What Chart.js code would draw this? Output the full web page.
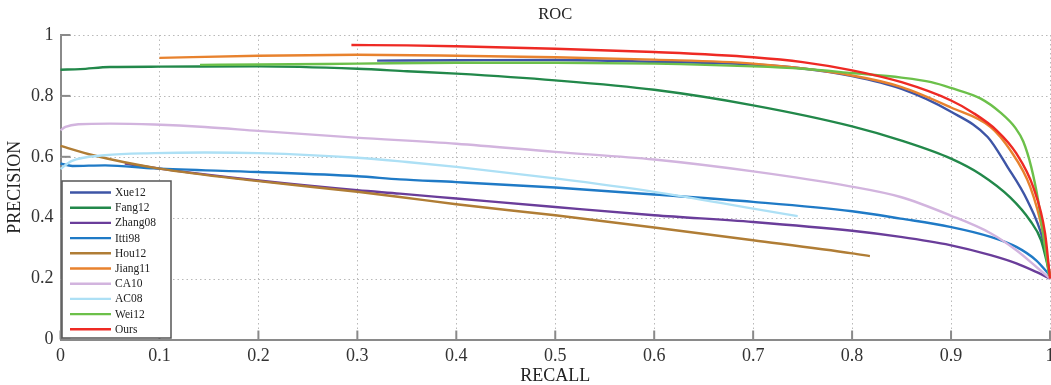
<!DOCTYPE html>
<html>
<head>
<meta charset="utf-8">
<script src="https://cdn.jsdelivr.net/npm/chart.js@4.4.1/dist/chart.umd.min.js"></script>
<style>
  html, body { margin: 0; padding: 0; background: #ffffff; }
  #wrap { width: 1051px; height: 385px; }
</style>
</head>
<body>
<div id="wrap"><canvas id="c" width="1051" height="385"></canvas></div>
<script>
// ---- Data ----
const seriesNames = ["Xue12", "Fang12", "Zhang08", "Itti98", "Hou12", "Jiang11", "CA10", "AC08", "Wei12", "Ours"];
const seriesColors = ["#3e55a6", "#22884a", "#6a3d9a", "#1f7ac6", "#b07d35", "#e8822e", "#d2b4de", "#ade0f5", "#6cc04a", "#ee2a24"];

const xue12Recall    = [0.32, 0.4, 0.5, 0.6, 0.7, 0.75, 0.8, 0.85, 0.9, 0.937, 0.957, 0.977, 0.993, 1.0];
const xue12Precision = [0.916, 0.917, 0.918, 0.912, 0.903, 0.89, 0.865, 0.823, 0.748, 0.665, 0.567, 0.457, 0.326, 0.21];

const fang12Recall    = [0, 0.02, 0.05, 0.1, 0.2, 0.3, 0.35, 0.4, 0.5, 0.6, 0.7, 0.8, 0.85, 0.9, 0.93, 0.96, 0.98, 0.991, 1.0];
const fang12Precision = [0.886, 0.888, 0.895, 0.896, 0.897, 0.889, 0.881, 0.873, 0.851, 0.82, 0.769, 0.70, 0.653, 0.594, 0.542, 0.466, 0.39, 0.326, 0.21];

const zhang08Recall    = [0.065, 0.1, 0.2, 0.3, 0.343, 0.4, 0.5, 0.6, 0.7, 0.8, 0.849, 0.899, 0.94, 0.966, 0.986, 1.0];
const zhang08Precision = [0.578, 0.561, 0.522, 0.49, 0.479, 0.463, 0.435, 0.408, 0.386, 0.357, 0.337, 0.31, 0.277, 0.25, 0.222, 0.2];

const itti98Recall    = [0, 0.012, 0.045, 0.095, 0.2, 0.3, 0.343, 0.4, 0.5, 0.6, 0.7, 0.8, 0.849, 0.899, 0.94, 0.966, 0.986, 1.0];
const itti98Precision = [0.578, 0.57, 0.572, 0.562, 0.55, 0.536, 0.526, 0.517, 0.499, 0.476, 0.452, 0.421, 0.397, 0.37, 0.337, 0.304, 0.26, 0.21];

const hou12Recall    = [0, 0.033, 0.1, 0.2, 0.3, 0.343, 0.4, 0.5, 0.6, 0.7, 0.8, 0.818];
const hou12Precision = [0.636, 0.605, 0.561, 0.52, 0.485, 0.468, 0.444, 0.408, 0.368, 0.326, 0.283, 0.274];

const jiang11Recall    = [0.1, 0.2, 0.3, 0.4, 0.5, 0.6, 0.7, 0.8, 0.85, 0.9, 0.94, 0.96, 0.98, 0.993, 1.0];
const jiang11Precision = [0.925, 0.932, 0.935, 0.932, 0.927, 0.919, 0.906, 0.867, 0.829, 0.762, 0.698, 0.621, 0.501, 0.349, 0.21];

const ca10Recall    = [0, 0.005, 0.018, 0.05, 0.095, 0.146, 0.2, 0.298, 0.4, 0.5, 0.6, 0.7, 0.798, 0.849, 0.899, 0.94, 0.966, 0.986, 1.0];
const ca10Precision = [0.687, 0.698, 0.707, 0.709, 0.706, 0.698, 0.685, 0.663, 0.643, 0.616, 0.591, 0.552, 0.503, 0.468, 0.408, 0.349, 0.293, 0.239, 0.2];

const ac08Recall    = [0, 0.011, 0.045, 0.095, 0.146, 0.2, 0.3, 0.35, 0.4, 0.5, 0.6, 0.7, 0.745];
const ac08Precision = [0.56, 0.586, 0.605, 0.612, 0.614, 0.612, 0.597, 0.583, 0.567, 0.529, 0.485, 0.43, 0.405];

const wei12Recall    = [0.141, 0.2, 0.3, 0.4, 0.5, 0.6, 0.7, 0.75, 0.8, 0.85, 0.88, 0.9, 0.93, 0.95, 0.965, 0.973, 0.981, 0.988, 0.993, 0.999];
const wei12Precision = [0.902, 0.903, 0.906, 0.909, 0.909, 0.906, 0.897, 0.889, 0.875, 0.86, 0.845, 0.826, 0.791, 0.745, 0.695, 0.65, 0.567, 0.457, 0.349, 0.21];

const oursRecall    = [0.294, 0.35, 0.4, 0.5, 0.6, 0.7, 0.75, 0.8, 0.85, 0.9, 0.922, 0.946, 0.966, 0.983, 0.995, 1.0];
const oursPrecision = [0.967, 0.966, 0.963, 0.955, 0.944, 0.927, 0.911, 0.884, 0.845, 0.785, 0.745, 0.687, 0.611, 0.501, 0.349, 0.2];

const xTickValues = [0, 0.1, 0.2, 0.3, 0.4, 0.5, 0.6, 0.7, 0.8, 0.9, 1];
const yTickValues = [0, 0.2, 0.4, 0.6, 0.8, 1];
const chartTitle = "ROC";
const xAxisTitle = "RECALL";
const yAxisTitle = "PRECISION";

// ---- Build datasets ----
const recalls = [xue12Recall, fang12Recall, zhang08Recall, itti98Recall, hou12Recall, jiang11Recall, ca10Recall, ac08Recall, wei12Recall, oursRecall];
const precisions = [xue12Precision, fang12Precision, zhang08Precision, itti98Precision, hou12Precision, jiang11Precision, ca10Precision, ac08Precision, wei12Precision, oursPrecision];

const datasets = seriesNames.map((name, i) => ({
  label: name,
  data: recalls[i].map((r, k) => ({ x: r, y: precisions[i][k] })),
  borderColor: seriesColors[i],
  backgroundColor: seriesColors[i],
  borderWidth: 2.4,
  pointRadius: 0,
  showLine: true,
  fill: false,
  cubicInterpolationMode: 'monotone',
  order: seriesNames.length - i,
  clip: 3
}));

const SERIF = "'Liberation Serif', 'DejaVu Serif', serif";
const GRID_COLOR = '#b9b9b9';
const AXIS_COLOR = '#8a8a8a';

const decorPlugin = {
  id: 'decor',
  beforeDatasetsDraw(chart) {
    const { ctx, chartArea } = chart;
    const xs = chart.scales.x, ys = chart.scales.y;
    ctx.save();
    ctx.strokeStyle = GRID_COLOR;
    ctx.lineWidth = 1;
    ctx.setLineDash([1.5, 3]);
    xTickValues.forEach(v => {
      if (v === 0) return;
      const px = Math.round(xs.getPixelForValue(v)) + 0.5;
      ctx.beginPath(); ctx.moveTo(px, chartArea.top); ctx.lineTo(px, chartArea.bottom); ctx.stroke();
    });
    yTickValues.forEach(v => {
      if (v === 0) return;
      const py = Math.round(ys.getPixelForValue(v)) + 0.5;
      ctx.beginPath(); ctx.moveTo(chartArea.left, py); ctx.lineTo(chartArea.right, py); ctx.stroke();
    });
    ctx.setLineDash([]);
    // inward tick marks
    ctx.strokeStyle = AXIS_COLOR;
    ctx.lineWidth = 2;
    xTickValues.forEach(v => {
      const px = xs.getPixelForValue(v);
      ctx.beginPath(); ctx.moveTo(px, chartArea.bottom); ctx.lineTo(px, chartArea.bottom - 9); ctx.stroke();
    });
    yTickValues.forEach(v => {
      const py = ys.getPixelForValue(v);
      ctx.beginPath(); ctx.moveTo(chartArea.left, py); ctx.lineTo(chartArea.left + 10, py); ctx.stroke();
    });
    ctx.restore();
  },
  afterDraw(chart) {
    const { ctx, chartArea } = chart;
    ctx.save();
    // title
    ctx.fillStyle = '#222';
    ctx.font = "16.5px " + SERIF;
    ctx.textAlign = 'center';
    ctx.textBaseline = 'middle';
    ctx.fillText(chartTitle, (chartArea.left + chartArea.right) / 2, 15);
    // legend
    const bx = 62, by = 181, bw = 109, bh = 157;
    ctx.fillStyle = '#ffffff';
    ctx.fillRect(bx, by, bw, bh);
    ctx.strokeStyle = '#555';
    ctx.lineWidth = 1.5;
    ctx.strokeRect(bx, by, bw, bh);
    ctx.font = "11.5px " + SERIF;
    ctx.textAlign = 'left';
    ctx.textBaseline = 'middle';
    chart.data.datasets.forEach((ds, i) => {
      const y = 192.5 + i * 15.2;
      ctx.strokeStyle = ds.borderColor;
      ctx.lineWidth = 2.4;
      ctx.beginPath(); ctx.moveTo(70, y); ctx.lineTo(111, y); ctx.stroke();
      ctx.fillStyle = '#222';
      ctx.fillText(ds.label, 115, y + 0.5);
    });
    ctx.restore();
  }
};

new Chart(document.getElementById('c'), {
  type: 'scatter',
  data: { datasets },
  options: {
    responsive: false,
    animation: false,
    devicePixelRatio: 1,
    layout: { padding: { top: 35, right: 1, left: 0, bottom: 0 } },
    plugins: {
      legend: { display: false },
      tooltip: { enabled: false },
      title: { display: false }
    },
    scales: {
      x: {
        type: 'linear',
        min: 0, max: 1,
        afterBuildTicks: (scale) => { scale.ticks = xTickValues.map(v => ({ value: v })); },
        ticks: {
          padding: 6,
          color: '#333',
          font: { family: SERIF, size: 18 },
          maxRotation: 0,
          autoSkip: false,
          callback: (v) => String(+v.toFixed(1))
        },
        grid: { display: true, drawOnChartArea: false, drawTicks: false },
        border: { display: true, color: AXIS_COLOR, width: 2 },
        title: { display: true, text: xAxisTitle, color: '#222', font: { family: SERIF, size: 18, lineHeight: 1.0 }, padding: { top: 0, bottom: 0 } },
        afterFit: (scale) => { scale.height = 45.5; scale.paddingLeft = 0; scale.paddingRight = 0; }
      },
      y: {
        type: 'linear',
        min: 0, max: 1,
        afterBuildTicks: (scale) => { scale.ticks = yTickValues.map(v => ({ value: v })); },
        ticks: {
          padding: 7,
          color: '#333',
          font: { family: SERIF, size: 18 },
          autoSkip: false,
          callback: (v) => String(+v.toFixed(1))
        },
        grid: { display: true, drawOnChartArea: false, drawTicks: false },
        border: { display: true, color: AXIS_COLOR, width: 2 },
        title: { display: true, text: yAxisTitle, color: '#222', font: { family: SERIF, size: 18, lineHeight: 1.0 }, padding: { top: 6, bottom: 0 } },
        afterFit: (scale) => { scale.width = 60.5; scale.paddingTop = 0; scale.paddingBottom = 0; }
      }
    }
  },
  plugins: [decorPlugin]
});
</script>
</body>
</html>
